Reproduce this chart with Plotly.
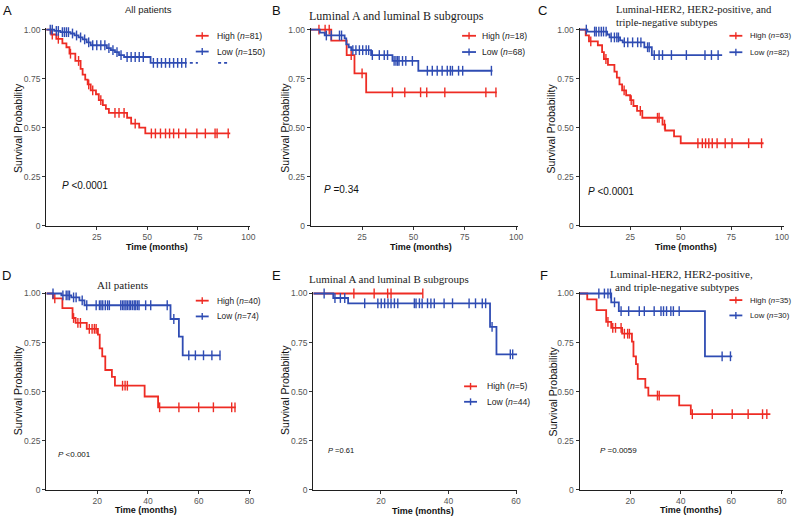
import plotly.graph_objects as go

W, H = 800, 522
RED = "#EE2C24"
BLUE = "#2F4CB3"
SANS = "Liberation Sans, Arial, sans-serif"
SERIF = "Liberation Serif, Times New Roman, serif"

# ---------------- Data (times in months, survival probability) ----------------
# Panel A - All patients
A_high_t = [2.5, 5, 8, 10, 11.5, 14.4, 17, 18, 19.3, 20.5, 22, 24.6, 26, 28, 29.5, 31, 40, 42, 46, 49]
A_high_s = [0.975, 0.953, 0.93, 0.91, 0.877, 0.84, 0.80, 0.77, 0.745, 0.72, 0.69, 0.67, 0.64, 0.615, 0.595, 0.575, 0.55, 0.52, 0.50, 0.47]
A_high_end = 91
A_high_c = [3, 6, 12, 16, 21, 23, 27, 34, 36, 38.5, 44, 52, 54, 56.5, 59, 61, 63, 65.5, 69, 74.5, 78.7, 83.5, 84.5, 90]
A_low_t = [4, 7, 12, 14, 16, 18, 20, 22, 30, 32, 34, 36, 38.5, 51.6]
A_low_s = [0.993, 0.987, 0.98, 0.97, 0.96, 0.95, 0.935, 0.92, 0.905, 0.895, 0.885, 0.87, 0.86, 0.83]
A_low_end = 69.5
A_low_c = [2, 3, 5, 6, 8, 9, 10, 11, 13, 15, 17, 19, 21, 23, 25, 27, 29, 31, 33, 35, 37, 40, 42, 44, 46, 48,
           53, 55, 57, 59, 61, 63, 65, 67, 69]
A_low_tail = [[71, 75], [85, 90.5]]

# Panel B - Luminal A and luminal B
B_high_t = [10, 17.5, 21.3, 27]
B_high_s = [0.944, 0.87, 0.777, 0.68]
B_high_end = 90.6
B_high_c = [4, 7, 9, 19.7, 25, 39.8, 45.8, 53.5, 56.5, 65.3, 85.3, 90.2]
B_low_t = [4.4, 6.8, 16.5, 17.3, 18.5, 19.7, 29.4, 39.8, 52.4]
B_low_s = [0.985, 0.97, 0.955, 0.925, 0.91, 0.895, 0.87, 0.84, 0.79]
B_low_end = 88.5
B_low_c = [7.6, 10, 14, 15, 20.5, 22, 23.7, 25.3, 27, 28.2, 30, 33.4, 35.8, 37.4, 40.6, 41.5, 42.3, 43, 44.7,
           46.3, 49.5, 56.8, 59.2, 61.6, 64, 66.5, 68, 69, 72, 74, 88]

# Panel C - Luminal-HER2, HER2-positive, triple-negative
C_high_t = [3, 4.6, 9, 11.1, 12, 14, 17.2, 18.4, 19.7, 21, 23, 25, 26.6, 28.4, 31, 41, 42.3, 46.7, 50]
C_high_s = [0.97, 0.94, 0.92, 0.885, 0.85, 0.82, 0.785, 0.755, 0.72, 0.69, 0.665, 0.64, 0.61, 0.585, 0.55,
            0.515, 0.485, 0.455, 0.42]
C_high_end = 91
C_high_c = [5.5, 13, 22, 25.5, 30, 38.5, 39.3, 42, 58.5, 60.7, 62.3, 63.9, 65.6, 68, 72, 75.4, 83.6, 90]
C_low_t = [3.8, 13.6, 14.8, 20, 21.3, 32, 35.7]
C_low_s = [0.99, 0.975, 0.96, 0.945, 0.935, 0.91, 0.87]
C_low_end = 70.5
C_low_c = [3.3, 7.4, 8.2, 9.5, 10.7, 11.8, 13.1, 15.6, 17.2, 18.4, 19.2, 22.1, 23.8, 26.2, 28.7, 30.3, 33.6,
           34.4, 36.9, 39.3, 41, 45.4, 52.8, 62, 65.2, 68.5]

# Panel D - All patients (validation)
D_high_t = [2.6, 6.3, 10.3, 11.5, 15.9, 20.3, 21, 22, 23.2, 25.8, 27, 38.7, 44]
D_high_s = [0.975, 0.925, 0.875, 0.85, 0.82, 0.79, 0.72, 0.68, 0.61, 0.575, 0.53, 0.475, 0.42]
D_high_end = 74.6
D_high_c = [3.3, 10.7, 12.4, 13.4, 16.9, 18, 18.9, 19.6, 30, 31, 31.9, 44.6, 52.2, 60, 65.8, 73, 74.3]
D_low_t = [5.9, 9.8, 13, 15, 48.9, 52.2, 53.7]
D_low_s = [0.99, 0.98, 0.965, 0.94, 0.87, 0.78, 0.685]
D_low_end = 68.5
D_low_c = [2.6, 6.5, 7.8, 8.5, 9.1, 10.7, 11.7, 14.1, 15.9, 19.6, 20.9, 21.5, 22.2, 23.2, 24.1, 24.8, 29.3,
           30, 30.6, 31.3, 31.9, 32.6, 33.2, 33.9, 34.6, 35.2, 35.9, 36.5, 39.1, 41.1, 47.6, 50.2, 56.1, 58.7,
           61.9, 65.2, 68.4]

# Panel E - Luminal A and luminal B (validation)
E_high_t = []
E_high_s = []
E_high_end = 32.4
E_high_c = [12, 18, 22, 23, 32.4]
E_low_t = [5.9, 10.3, 52.3, 54.2]
E_low_s = [0.977, 0.95, 0.83, 0.69]
E_low_end = 63
E_low_c = [3.2, 6.4, 8, 9.3, 15.2, 19.1, 20.1, 21.1, 22.1, 23, 24, 25, 29.9, 30.4, 31.4, 32.2, 33.8, 34.8,
           35.8, 38.7, 41.2, 46.1, 48, 50, 51, 52.9, 58.3, 59, 62.7]

# Panel F - Luminal-HER2, HER2-positive, triple-negative (validation)
F_high_t = [3, 6.7, 10.5, 12.5, 16.8, 20.7, 21.3, 22.3, 23, 26, 27.2, 39.4, 44]
F_high_s = [0.97, 0.915, 0.855, 0.825, 0.795, 0.755, 0.68, 0.64, 0.565, 0.52, 0.48, 0.43, 0.385]
F_high_end = 75.5
F_high_c = [11.2, 13.1, 14.2, 16.4, 17.7, 19, 19.7, 30.8, 31.5, 44.6, 52.5, 60.4, 66.7, 72.4, 74.1]
F_low_t = [12.5, 15.5, 49.6]
F_low_s = [0.955, 0.91, 0.68]
F_low_end = 60.4
F_low_c = [7.6, 9.8, 11.2, 12.2, 13.8, 16.4, 19.4, 23.6, 25.6, 29.5, 32.2, 33.2, 34.4, 36.1, 37.1, 39.4,
           56.4, 59.7]

Y_TICKS = [0, 0.25, 0.5, 0.75, 1.0]
Y_TICKTEXT = ["0", "0.25", "0.50", "0.75", "1.00"]
X_TICKS_100 = [25, 50, 75, 100]
X_TICKS_80 = [20, 40, 60, 80]
X_TICKS_60 = [20, 40, 60]

panels = [
    dict(key="A", letter="A", title=["All patients"], tfont=SANS, tsize=9.5,
         high=(A_high_t, A_high_s, A_high_end, A_high_c), low=(A_low_t, A_low_s, A_low_end, A_low_c),
         n=("81", "150"), p="<i>P</i> &lt;0.0001", psize=10, lsize=8.6, xt=X_TICKS_100, xr=101,
         px=(46.5, 2.035), py=(226, 199)),
    dict(key="B", letter="B", title=["Luminal A and luminal B subgroups"], tfont=SERIF, tsize=12,
         high=(B_high_t, B_high_s, B_high_end, B_high_c), low=(B_low_t, B_low_s, B_low_end, B_low_c),
         n=("18", "68"), p="<i>P</i> =0.34", psize=10, lsize=8.6, xt=X_TICKS_100, xr=101,
         px=(312.7, 2.066), py=(226, 199)),
    dict(key="C", letter="C", title=["Luminal-HER2, HER2-positive, and", "triple-negative subtypes"],
         tfont=SERIF, tsize=10.6,
         high=(C_high_t, C_high_s, C_high_end, C_high_c), low=(C_low_t, C_low_s, C_low_end, C_low_c),
         n=("63", "82"), p="<i>P</i> &lt;0.0001", psize=10, lsize=7.8, xt=X_TICKS_100, xr=101,
         px=(583.3, 2.034), py=(226, 199)),
    dict(key="D", letter="D", title=["All patients"], tfont=SERIF, tsize=11,
         high=(D_high_t, D_high_s, D_high_end, D_high_c), low=(D_low_t, D_low_s, D_low_end, D_low_c),
         n=("40", "74"), p="<i>P</i> &lt;0.001", psize=8, lsize=8.3, xt=X_TICKS_80, xr=80.5,
         px=(46.7, 2.554), py=(494.3, 199.3)),
    dict(key="E", letter="E", title=["Luminal A and luminal B subgroups"], tfont=SERIF, tsize=11,
         high=(E_high_t, E_high_s, E_high_end, E_high_c), low=(E_low_t, E_low_s, E_low_end, E_low_c),
         n=("5", "44"), p="<i>P</i> =0.61", psize=7.5, lsize=8.6, xt=X_TICKS_60, xr=60.3,
         px=(315.3, 3.4), py=(494.3, 199.3)),
    dict(key="F", letter="F", title=["Luminal-HER2, HER2-positive,", "and triple-negative subtypes"],
         tfont=SERIF, tsize=11,
         high=(F_high_t, F_high_s, F_high_end, F_high_c), low=(F_low_t, F_low_s, F_low_end, F_low_c),
         n=("35", "30"), p="<i>P</i> =0.0059", psize=8, lsize=7.8, xt=X_TICKS_80, xr=80.5,
         px=(583.3, 2.542), py=(494.3, 199.3)),
]

# ---------------- Text / legend placement (pixels) ----------------
layout_px = {
    "A": dict(letter=(7.5, 8), title=[(149, 7, "center")], leg=(197, 210, 216.5, 33.3, 49.3),
              p=(60, 185), ylab=(18.3, 126.7), xlab=(158.3, 247.5)),
    "B": dict(letter=(278.5, 8), title=[(399, 12.7, "center")], leg=(465, 479, 483.3, 33.3, 49.8),
              p=(324.3, 189.3), ylab=(286.7, 126.7), xlab=(423.3, 247.5)),
    "C": dict(letter=(546, 7.5), title=[(618, 6.7, "left"), (617.5, 19.3, "left")],
              leg=(734, 747, 752.7, 33.3, 50), p=(590, 191.7), ylab=(555, 128), xlab=(690.8, 247.5)),
    "D": dict(letter=(6.5, 277), title=[(122.8, 286, "center")], leg=(197, 210, 216.5, 302.3, 318.3),
              p=(56, 458.3), ylab=(18.3, 393), xlab=(146.7, 515)),
    "E": dict(letter=(278.5, 277), title=[(391.7, 280, "center")], leg=(467, 480, 487.7, 389.3, 405),
              p=(328.3, 454), ylab=(286.7, 393), xlab=(425.8, 515.5)),
    "F": dict(letter=(547, 277), title=[(686, 275, "center"), (681.7, 288.3, "center")],
              leg=(734, 747, 752.7, 301.7, 317.3), p=(601.7, 454), ylab=(556, 395), xlab=(695, 515)),
}


def fx(px):
    return px / W


def fy(py):
    return 1 - py / H


def surv_at(t, times, surv):
    s = 1.0
    for ti, si in zip(times, surv):
        if ti <= t:
            s = si
    return s


fig = go.Figure()
shapes = []
annotations = []

for i, p in enumerate(panels, start=1):
    xa = "x" if i == 1 else f"x{i}"
    ya = "y" if i == 1 else f"y{i}"
    x0, ppu = p["px"]
    ybot, ppy = p["py"]
    ytop_range = 1.01
    xdom = [fx(x0), fx(x0 + p["xr"] * ppu)]
    ydom = [fy(ybot), fy(ybot - ytop_range * ppy)]

    axis_common = dict(showline=True, linecolor="#1f1f1f", linewidth=1.3, ticks="outside", ticklen=3,
                       tickwidth=1, tickcolor="#333333", showgrid=False, zeroline=False,
                       tickfont=dict(family=SANS, size=8.5, color="#555555"), fixedrange=True)
    fig.update_layout(**{
        ("xaxis" if i == 1 else f"xaxis{i}"): dict(domain=xdom, range=[0, p["xr"]], anchor=ya,
                                                   tickvals=p["xt"], **axis_common),
        ("yaxis" if i == 1 else f"yaxis{i}"): dict(domain=ydom, range=[0, ytop_range], anchor=xa,
                                                   tickvals=Y_TICKS, ticktext=Y_TICKTEXT, **axis_common),
    })

    for grp, color in (("high", RED), ("low", BLUE)):
        times, surv, end, cens = p[grp]
        xs = [0] + list(times) + [end]
        ys = [1.0] + list(surv) + [surv[-1] if surv else 1.0]
        fig.add_trace(go.Scatter(x=xs, y=ys, mode="lines", line=dict(color=color, width=1.8, shape="hv"),
                                 xaxis=xa, yaxis=ya, showlegend=False, cliponaxis=False, hoverinfo="skip"))
        fig.add_trace(go.Scatter(x=cens, y=[surv_at(c, times, surv) for c in cens], mode="markers",
                                 marker=dict(symbol="line-ns", size=7, line=dict(color=color, width=1.4)),
                                 xaxis=xa, yaxis=ya, showlegend=False, cliponaxis=False, hoverinfo="skip"))

    if p["key"] == "A":
        tx, ty = [], []
        for a, b in A_low_tail:
            tx += [a, b, None]
            ty += [A_low_s[-1], A_low_s[-1], None]
        fig.add_trace(go.Scatter(x=tx, y=ty, mode="lines", line=dict(color=BLUE, width=1.8, dash="dot"),
                                 xaxis=xa, yaxis=ya, showlegend=False, cliponaxis=False, hoverinfo="skip"))

    L = layout_px[p["key"]]
    annotations.append(dict(text=p["letter"], x=fx(L["letter"][0]), y=fy(L["letter"][1]), xref="paper",
                            yref="paper", showarrow=False, xanchor="center", yanchor="middle",
                            font=dict(family=SANS, size=13, color="#111111")))
    for (tx_, ty_, anc), line in zip(L["title"], p["title"]):
        annotations.append(dict(text=line, x=fx(tx_), y=fy(ty_), xref="paper", yref="paper", showarrow=False,
                                xanchor=anc, yanchor="middle",
                                font=dict(family=p["tfont"], size=p["tsize"], color="#222222")))
    lx1, lx2, ltx, ly1, ly2 = L["leg"]
    for ly, color, label, n in ((ly1, RED, "High", p["n"][0]), (ly2, BLUE, "Low", p["n"][1])):
        shapes.append(dict(type="line", xref="paper", yref="paper", x0=fx(lx1), x1=fx(lx2), y0=fy(ly), y1=fy(ly),
                           line=dict(color=color, width=1.8)))
        xm = (lx1 + lx2) / 2
        shapes.append(dict(type="line", xref="paper", yref="paper", x0=fx(xm), x1=fx(xm), y0=fy(ly - 3.5),
                           y1=fy(ly + 3.5), line=dict(color=color, width=1.4)))
        annotations.append(dict(text=f"{label} (<i>n</i>={n})", x=fx(ltx), y=fy(ly), xref="paper",
                                yref="paper", showarrow=False, xanchor="left", yanchor="middle",
                                font=dict(family=SANS, size=p["lsize"], color="#222222")))
    annotations.append(dict(text=p["p"], x=fx(L["p"][0]), y=fy(L["p"][1]), xref="paper", yref="paper",
                            showarrow=False, xanchor="left", yanchor="middle",
                            font=dict(family=SANS, size=p["psize"], color="#111111")))
    annotations.append(dict(text="Survival Probability", x=fx(L["ylab"][0]), y=fy(L["ylab"][1]), xref="paper",
                            yref="paper", showarrow=False, textangle=-90, xanchor="center", yanchor="middle",
                            font=dict(family=SANS, size=10.5, color="#111111")))
    annotations.append(dict(text="<b>Time (months)</b>", x=fx(L["xlab"][0]), y=fy(L["xlab"][1]), xref="paper",
                            yref="paper", showarrow=False, xanchor="center", yanchor="middle",
                            font=dict(family=SANS, size=9, color="#111111")))

fig.update_layout(width=W, height=H, margin=dict(l=0, r=0, t=0, b=0), paper_bgcolor="white",
                  plot_bgcolor="white", showlegend=False, shapes=shapes, annotations=annotations)

fig.write_html("out.html", config={"displayModeBar": False},
               post_script="document.body.style.margin='0';document.body.style.overflow='hidden';")
